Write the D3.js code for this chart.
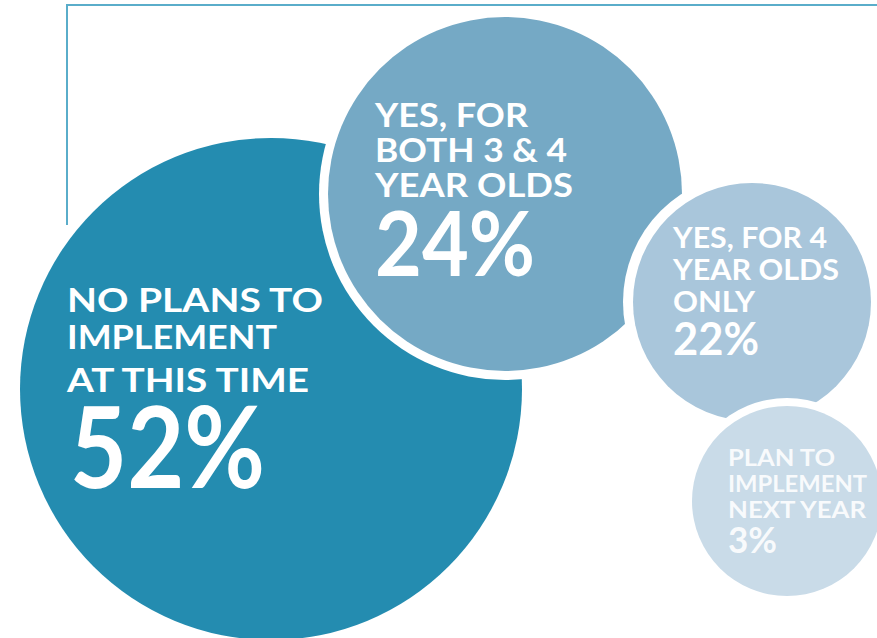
<!DOCTYPE html>
<html>
<head>
<meta charset="utf-8">
<script src="https://cdn.jsdelivr.net/npm/d3@7"></script>
<style>
  html, body { margin: 0; padding: 0; background: #fff; }
  svg { display: block; }
</style>
</head>
<body>
<svg id="chart"></svg>
<script>
// data
const categories = ["none", "both", "four", "next"];
const labels = [
  ["NO PLANS TO", "IMPLEMENT", "AT THIS TIME"],
  ["YES, FOR", "BOTH 3 & 4", "YEAR OLDS"],
  ["YES, FOR 4", "YEAR OLDS", "ONLY"],
  ["PLAN TO", "IMPLEMENT", "NEXT YEAR"]
];
const values = [52, 24, 22, 3];

// layout (bubble placement, not data)
const centers = [[271, 389], [505, 194], [752, 302], [787, 501]];
const radii = [251, 177, 119, 95];
const rings = [6, 9, 10, 8];
const colors = ["#248cb0", "#75a9c5", "#a9c6db", "#c9dbe8"];
const textPos = [[67, 312, [0, 37, 80], 488], [375, 127, [0, 35, 70], 276], [673, 248, [0, 32, 64], 355], [728, 466, [0, 26, 52], 553]];
const labelSize = [33, 33, 28, 22];
const numSize = [113, 89, 46, 36];
// rendered widths of each line in the original artwork (label lines, then number)
const lineWidths = [[256, 210, 242, 195], [153, 192, 198, 160], [154, 166, 82, 86], [107, 139, 138, 49]];

const width = 877, height = 638;
const svg = d3.select("#chart").attr("width", width).attr("height", height);

const color = d3.scaleOrdinal().domain(categories).range(colors);
const radius = d3.scaleOrdinal().domain(categories).range(radii);
const center = d3.scaleOrdinal().domain(categories).range(centers);
const fmt = d => d3.format("d")(d) + "%";

// frame line
svg.append("path")
  .attr("d", d3.line()([[67, 225], [67, 5], [877, 5]]))
  .attr("fill", "none")
  .attr("stroke", "#5aadca")
  .attr("stroke-width", 2);

const data = categories.map((c, i) => ({ key: c, value: values[i], lines: labels[i], i }));

const bubble = svg.selectAll("g.bubble")
  .data(data)
  .enter()
  .append("g")
  .attr("class", "bubble")
  .attr("transform", d => `translate(${center(d.key)})`);

bubble.append("circle")
  .attr("r", d => radius(d.key) + rings[d.i])
  .attr("fill", "#fff");

bubble.append("circle")
  .attr("r", d => radius(d.key))
  .attr("fill", d => color(d.key));

const text = svg.selectAll("g.label")
  .data(data)
  .enter()
  .append("g")
  .attr("class", "label")
  .style("font-family", "Lato, 'Open Sans', sans-serif")
  .style("font-weight", 700)
  .attr("fill", "#fff")
  .attr("fill-opacity", d => d.i === 3 ? 0.88 : 1);

text.each(function (d) {
  const g = d3.select(this);
  const [x, y0, offs, ny] = textPos[d.i];
  const w = lineWidths[d.i];
  d.lines.forEach((line, k) => {
    g.append("text")
      .attr("x", x)
      .attr("y", y0 + offs[k])
      .attr("textLength", w[k])
      .attr("lengthAdjust", "spacingAndGlyphs")
      .style("font-size", labelSize[d.i] + "px")
      .text(line);
  });
  g.append("text")
    .attr("x", x + (d.i === 0 ? 3 : 0))
    .attr("y", ny)
    .attr("textLength", w[3])
    .attr("lengthAdjust", "spacingAndGlyphs")
    .style("font-size", numSize[d.i] + "px")
    .text(fmt(d.value));
});
</script>
</body>
</html>
